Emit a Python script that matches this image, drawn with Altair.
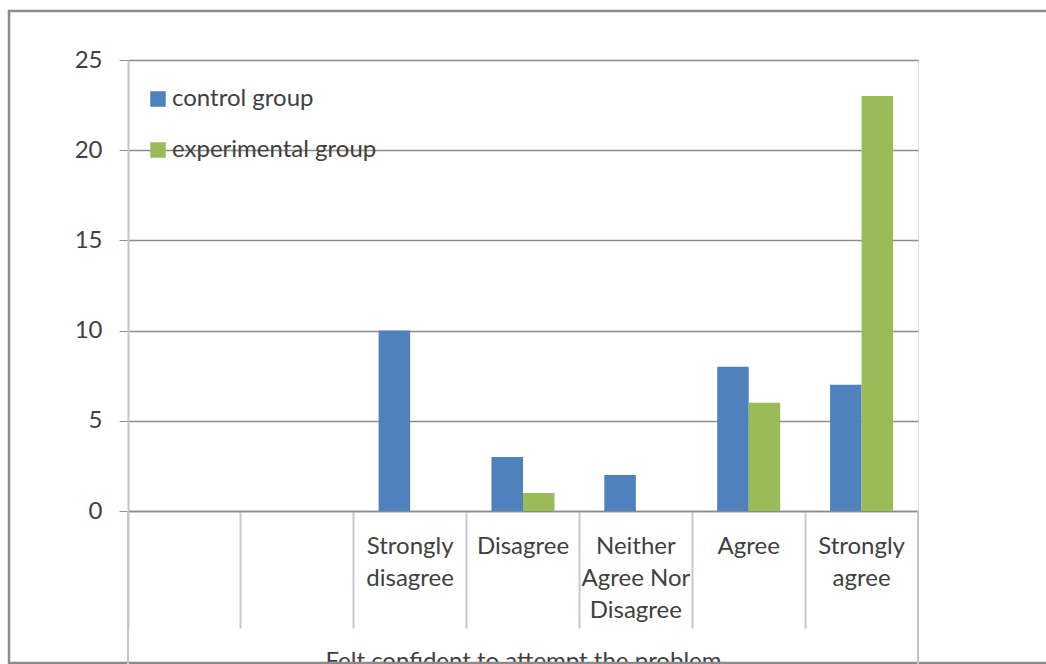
import altair as alt
import pandas as pd

categories = ["", " ", "Strongly|disagree", "Disagree", "Neither|Agree Nor|Disagree", "Agree", "Strongly|agree"]
control = [0, 0, 10, 3, 2, 8, 7]
experimental = [0, 0, 0, 1, 0, 6, 23]
groups = ["control group", "experimental group"]
colors = ["#4F81BD", "#9BBB59"]
y_ticks = [0, 5, 10, 15, 20, 25]
x_title = "Felt confident to attempt the problem"

FONT = "Lato"
FS = 24
TXT = "#404040"
W, H = 790, 451

rows = []
for c, a, b in zip(categories, control, experimental):
    rows.append({"cat": c, "group": groups[0], "value": a})
    rows.append({"cat": c, "group": groups[1], "value": b})
df = pd.DataFrame(rows)

bars = alt.Chart(df).mark_bar().encode(
    x=alt.X(
        "cat:N", sort=categories,
        scale=alt.Scale(paddingInner=0, paddingOuter=0),
        axis=alt.Axis(
            title=x_title, bandPosition=0, tickSize=117, tickColor="#c8c8c8", tickWidth=2,
            domainColor="#8c8c8c", domainWidth=1.5,
            labelExpr="split(datum.label, '|')", labelPadding=-94,
            labelAngle=0, labelLineHeight=32, labelBaseline="top", labelAlign="center",
            labelFont=FONT, labelFontSize=FS, labelColor=TXT, labelOverlap=False, labelBound=False,
            titleFont=FONT, titleFontSize=FS, titleFontWeight="normal", titleColor=TXT,
            titleY=157, titleBaseline="alphabetic", titleX=W / 2, titleAnchor="middle"
        ),
    ),
    xOffset=alt.XOffset("group:N", sort=groups, scale=alt.Scale(paddingOuter=0.79, paddingInner=0)),
    y=alt.Y(
        "value:Q", scale=alt.Scale(domain=[0, 25]),
        axis=alt.Axis(
            values=y_ticks, title=None, tickSize=9, tickColor="#8c8c8c", labelPadding=17,
            gridColor="#8c8c8c", gridWidth=1.5, domainColor="#c4c4c4", domainWidth=2,
            labelFont=FONT, labelFontSize=FS, labelColor=TXT
        ),
    ),
    color=alt.Color(
        "group:N", sort=groups, scale=alt.Scale(domain=groups, range=colors),
        legend=alt.Legend(
            orient="none", legendX=18, legendY=27, title=None, symbolType="square",
            symbolSize=240, symbolStrokeWidth=0, labelFont=FONT, labelFontSize=FS,
            labelColor=TXT, labelOffset=2, labelLimit=0, rowPadding=27, padding=0
        ),
    ),
)

one = pd.DataFrame({"a": [0]})
left_line = alt.Chart(one).mark_rule(color="#c4c4c4", strokeWidth=2).encode(
    x=alt.value(0), y=alt.value(H), y2=alt.value(H + 160)
)
right_line = alt.Chart(one).mark_rule(color="#c4c4c4", strokeWidth=2).encode(
    x=alt.value(W), y=alt.value(H), y2=alt.value(H + 160)
)
frame = alt.Chart(one).mark_rect(fillOpacity=0, stroke="#8c8c8c", strokeWidth=2.5).encode(
    x=alt.value(-119), x2=alt.value(1000), y=alt.value(-49), y2=alt.value(603)
)

chart = alt.layer(frame, bars, left_line, right_line).properties(
    width=W, height=H,
    autosize=alt.AutoSizeParams(type="none"),
    padding={"left": 128, "top": 60, "right": 128, "bottom": 153},
).configure_view(stroke=None).configure(background="white")

chart.save("out.html", embed_options={"renderer": "svg", "actions": False})
